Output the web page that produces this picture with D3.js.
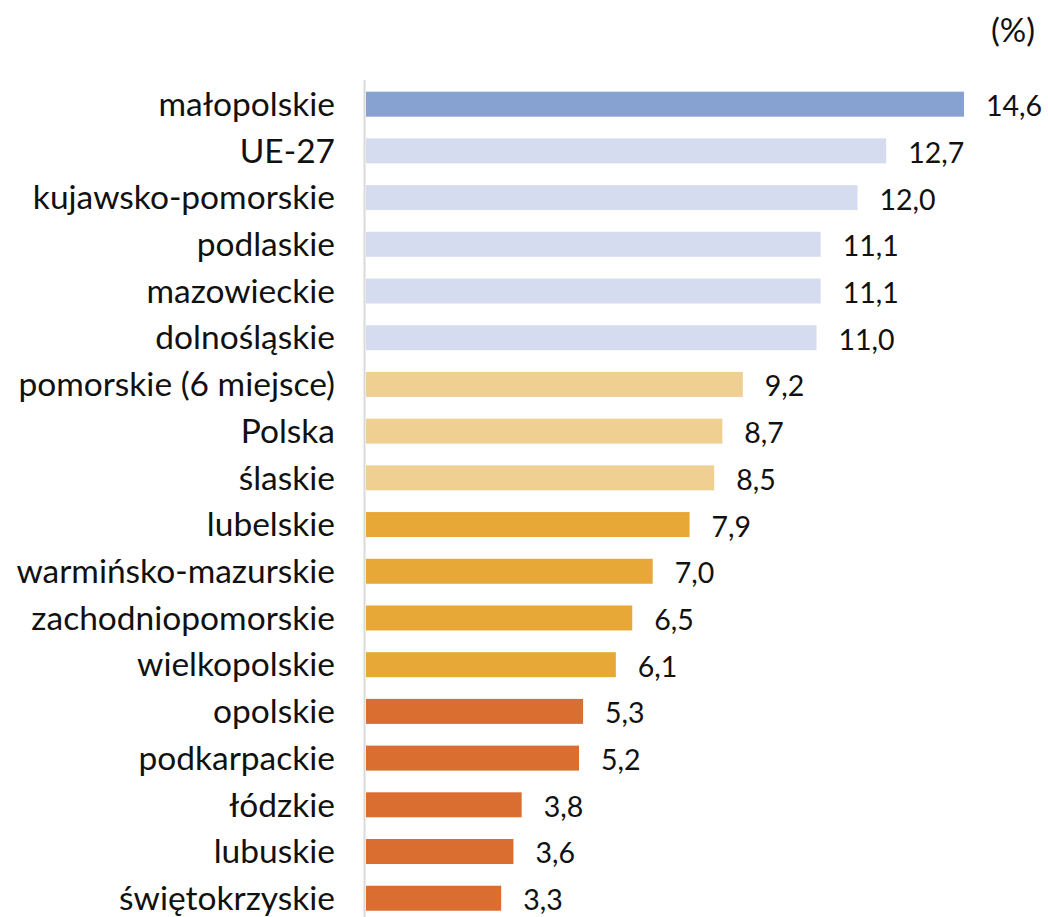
<!DOCTYPE html>
<html>
<head>
<meta charset="utf-8">
<script src="https://cdn.jsdelivr.net/npm/d3@7"></script>
<style>
  body { margin: 0; background: #fff; }
  text { font-family: "Lato", "Noto Sans", sans-serif; fill: #111; }
</style>
</head>
<body>
<svg id="chart"></svg>
<script>
/* data */
var regions = ["małopolskie", "UE-27", "kujawsko-pomorskie", "podlaskie", "mazowieckie",
  "dolnośląskie", "pomorskie (6 miejsce)", "Polska ", "ślaskie", "lubelskie",
  "warmińsko-mazurskie", "zachodniopomorskie", "wielkopolskie", "opolskie",
  "podkarpackie", "łódzkie", "lubuskie", "świętokrzyskie"];
var values = [14.6, 12.7, 12.0, 11.1, 11.1, 11.0, 9.2, 8.7, 8.5, 7.9, 7.0, 6.5, 6.1, 5.3, 5.2, 3.8, 3.6, 3.3];
var groups = ["top", "high", "high", "high", "high", "high", "mid", "mid", "mid",
  "low", "low", "low", "low", "lowest", "lowest", "lowest", "lowest", "lowest"];
var unitLabel = "(%)";

var width = 1048, height = 917,
    margin = { top: 80, right: 84, bottom: 0, left: 366 };

var svg = d3.select("#chart")
    .attr("width", width)
    .attr("height", height);

var data = regions.map(function(r, i) {
  return { name: r, value: values[i], group: groups[i] };
});

var xScale = d3.scaleLinear()
    .domain([0, 14.6])
    .range([margin.left, 964]);

var yScale = d3.scaleBand()
    .domain(regions)
    .range([80, 80 + 46.8 * regions.length])
    .paddingInner(0.465)
    .paddingOuter(0.25);

var colorScale = d3.scaleOrdinal()
    .domain(["top", "high", "mid", "low", "lowest"])
    .range(["#87a1d1", "#d5dcef", "#f0cf93", "#e8a838", "#da6d30"]);

var fmt = function(v) { return d3.format(".1f")(v).replace(".", ","); };

// bars
svg.append("g").attr("class", "bars")
  .selectAll("rect")
  .data(data)
  .enter().append("rect")
    .attr("x", xScale(0))
    .attr("y", function(d) { return yScale(d.name); })
    .attr("width", function(d) { return xScale(d.value) - xScale(0); })
    .attr("height", yScale.bandwidth())
    .attr("fill", function(d) { return colorScale(d.group); });

// y axis (category labels)
var yAxis = d3.axisLeft(yScale).tickSize(0).tickPadding(30);
var yAxisG = svg.append("g")
    .attr("class", "y-axis")
    .attr("transform", "translate(" + (margin.left - 1) + ",0)")
    .call(yAxis);
yAxisG.select(".domain").remove();
yAxisG.selectAll("text")
    .style("font-size", "33.5px")
    .attr("dy", "0.35em")
    .style("font-family", null);

// vertical axis line
svg.append("line")
    .attr("x1", margin.left - 1.5).attr("x2", margin.left - 1.5)
    .attr("y1", 80).attr("y2", height)
    .attr("stroke", "#d9d9d9")
    .attr("stroke-width", 2);

// value labels
svg.append("g").attr("class", "values")
  .selectAll("text")
  .data(data)
  .enter().append("text")
    .attr("x", function(d) { return xScale(d.value) + 22; })
    .attr("y", function(d) { return yScale(d.name) + yScale.bandwidth() / 2 + 2; })
    .attr("dy", "0.35em")
    .style("font-size", "28.5px")
    .text(function(d) { return fmt(d.value); });

// unit label
svg.append("text")
    .attr("x", 1035)
    .attr("y", 30)
    .attr("dy", "0.35em")
    .attr("text-anchor", "end")
    .style("font-size", "33px")
    .text(unitLabel);
</script>
</body>
</html>
